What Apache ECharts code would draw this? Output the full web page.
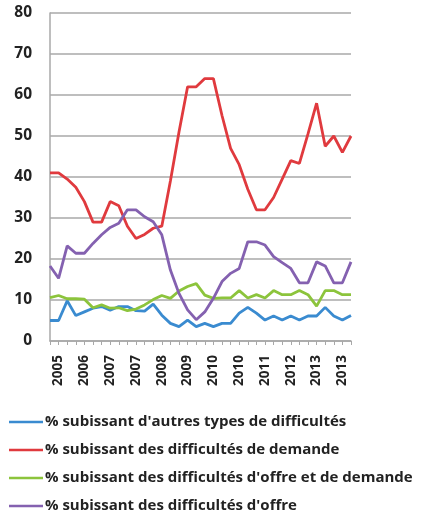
<!DOCTYPE html>
<html>
<head>
<meta charset="utf-8">
<script src="https://cdn.jsdelivr.net/npm/echarts@6/dist/echarts.min.js"></script>
<style>
  html, body { margin: 0; padding: 0; background: #fff; }
  #chart { width: 433px; height: 514px; }
</style>
</head>
<body>
<div id="chart"></div>
<script>
// trimestres (un point par trimestre)
const categories = [
  '2005T2', '2005T3', '2005T4', '2006T1', '2006T2', '2006T3', '2006T4',
  '2007T1', '2007T2', '2007T3', '2007T4', '2008T1', '2008T2', '2008T3', '2008T4',
  '2009T1', '2009T2', '2009T3', '2009T4', '2010T1', '2010T2', '2010T3', '2010T4',
  '2011T1', '2011T2', '2011T3', '2011T4', '2012T1', '2012T2', '2012T3', '2012T4',
  '2013T1', '2013T2', '2013T3', '2013T4', '2014T1'
]

// valeurs (%)
const autres = [5, 5, 9.8, 6.2, 7.1, 8, 8.4, 7.5, 8.4, 8.4, 7.4, 7.3, 9, 6.3, 4.3, 3.5, 5.1, 3.5,
  4.3, 3.5, 4.3, 4.3, 6.8, 8.2, 6.8, 5.1, 6.1, 5.1, 6.1, 5.1, 6.1, 6.1, 8.2, 6.1, 5.1, 6.2]
const demande = [41, 41, 39.5, 37.5, 34, 29, 29, 34, 33, 28, 25, 26, 27.5, 28, 39, 51, 62, 62,
  64, 64, 55, 47, 43, 37, 32, 32, 35, 39.5, 44, 43.3, 50.5, 58, 47.5, 50, 46, 50]
const offreDemande = [10.6, 11.1, 10.3, 10.3, 10.2, 8.1, 8.8, 8, 8.1, 7.4, 7.8, 8.8, 10.1, 11.1, 10.4, 12.2, 13.3, 14,
  11.2, 10.4, 10.5, 10.5, 12.3, 10.5, 11.3, 10.5, 12.3, 11.3, 11.3, 12.3, 11.3, 8.5, 12.3, 12.3, 11.3, 11.3]
const offre = [18.3, 15.3, 23.2, 21.4, 21.4, 23.8, 25.9, 27.7, 28.7, 32, 32, 30.3, 29.1, 25.9, 17.3, 11.6, 7.6, 5.2,
  7.1, 10.4, 14.5, 16.5, 17.7, 24.2, 24.2, 23.4, 20.6, 19.1, 17.7, 14.2, 14.2, 19.3, 18.3, 14.2, 14.2, 19.3]

const seriesNames = [
  "% subissant d'autres types de difficultés",
  '% subissant des difficultés de demande',
  "% subissant des difficultés d'offre et de demande",
  "% subissant des difficultés d'offre"
]
const colors = ['#3a8bd0', '#e03a3e', '#8cc43c', '#8461b0']

const chart = echarts.init(document.getElementById('chart'))

const makeLine = (name, data, color) => ({
  name,
  type: 'line',
  data,
  symbol: 'none',
  lineStyle: { color, width: 2.8 },
  itemStyle: { color },
  animation: false
})

const option = {
  backgroundColor: '#fff',
  textStyle: { fontFamily: '"Open Sans", "DejaVu Sans", sans-serif' },
  grid: { left: 50, right: 82, top: 13, bottom: 173 },
  legend: {
    orient: 'vertical',
    left: 4,
    top: 407,
    width: 425,
    height: 120,
    icon: 'rect',
    itemWidth: 34,
    itemHeight: 2.5,
    itemGap: 8,
    textStyle: { fontSize: 15, fontWeight: 'bold', color: '#222', lineHeight: 20, padding: [0, 0, 0, -3] },
    data: seriesNames
  },
  xAxis: {
    type: 'category',
    data: categories,
    boundaryGap: false,
    axisLine: { lineStyle: { color: '#a8a8a8', width: 1.5 } },
    axisTick: { show: true, interval: 0, length: 4, lineStyle: { color: '#a8a8a8' } },
    axisLabel: {
      rotate: 90,
      interval: (index) => index % 3 === 1,
      formatter: (v) => v.slice(0, 4),
      fontSize: 13.5,
      fontWeight: 'bold',
      color: '#222',
      margin: 14
    },
    splitLine: { show: false }
  },
  yAxis: {
    type: 'value',
    min: 0,
    max: 80,
    interval: 10,
    axisLine: { show: true, lineStyle: { color: '#a8a8a8', width: 1.5 } },
    axisTick: { show: false },
    axisLabel: { fontSize: 15.5, fontWeight: 'bold', color: '#222', margin: 18 },
    splitLine: { lineStyle: { color: '#a8a8a8', width: 1.5 } }
  },
  series: [
    makeLine(seriesNames[0], autres, colors[0]),
    makeLine(seriesNames[1], demande, colors[1]),
    makeLine(seriesNames[2], offreDemande, colors[2]),
    makeLine(seriesNames[3], offre, colors[3])
  ]
}

chart.setOption(option)
</script>
</body>
</html>
